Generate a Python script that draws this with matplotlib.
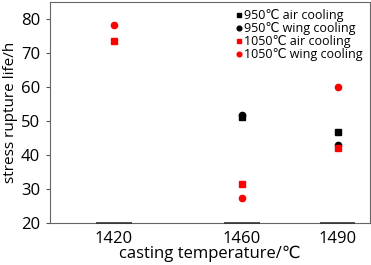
import matplotlib
matplotlib.use("Agg")
import matplotlib.pyplot as plt

plt.rcParams['font.family'] = ['Open Sans', 'DejaVu Sans']

# ================================
# Data
# ================================
temps = [1420, 1460, 1490]
air_950 = [None, 51.1, 46.8]
wing_950 = [None, 51.6, 42.9]
air_1050 = [73.5, 31.6, 41.9]
wing_1050 = [78.0, 27.5, 60.0]

def pts(vals):
    xs = [t for t, v in zip(temps, vals) if v is not None]
    ys = [v for v in vals if v is not None]
    return xs, ys

# ================================
# Plot
# ================================
fig = plt.figure(figsize=(3.71, 2.65), dpi=100)
ax = fig.add_axes([0.135, 0.158, 0.862, 0.836])

ax.plot(*pts(air_950), 's', color='black', ms=4, label='950℃ air cooling')
ax.plot(*pts(wing_950), 'o', color='black', ms=4.5, label='950℃ wing cooling')
ax.plot(*pts(air_1050), 's', color='red', ms=4, label='1050℃ air cooling')
ax.plot(*pts(wing_1050), 'o', color='red', ms=4.5, label='1050℃ wing cooling')

# dark segments on the bottom axis under each category
ax.hlines([20] * len(temps), [t - 5.5 for t in temps], [t + 5.5 for t in temps],
          color='#333333', lw=1.2, clip_on=False, zorder=3)

ax.set_xlim(1400, 1500)
ax.set_ylim(20, 85)
ax.set_xticks(temps)
ax.set_yticks([20, 30, 40, 50, 60, 70, 80])
ax.tick_params(axis='both', labelsize=12, color='#555555')
ax.tick_params(axis='x', length=0, pad=6)
ax.tick_params(axis='y', length=3, pad=4)
for s in ax.spines.values():
    s.set_color('#666666')
    s.set_linewidth(0.8)

ax.set_xlabel('casting temperature/℃', fontsize=12, labelpad=-1)
ax.set_ylabel('stress rupture life/h', fontsize=11, labelpad=2)

ax.legend(loc='upper right', frameon=False, fontsize=9, handletextpad=0.0,
          handlelength=0.8, labelspacing=0.0, borderaxespad=0.2,
          markerscale=0.75, borderpad=0.4)

plt.savefig("out.png", dpi=100)
